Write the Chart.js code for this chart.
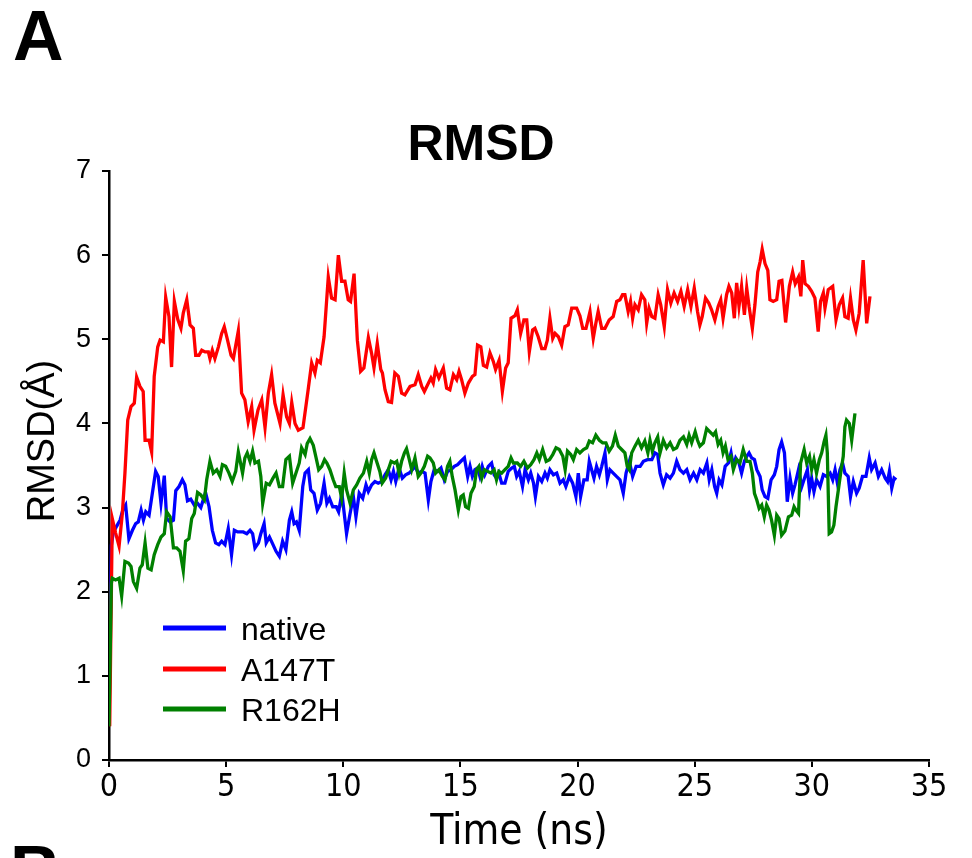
<!DOCTYPE html>
<html>
<head>
<meta charset="utf-8">
<title>RMSD</title>
<script src="https://cdn.jsdelivr.net/npm/chart.js@4/dist/chart.umd.min.js"></script>
<style>
  html, body { margin: 0; padding: 0; background: #fff; }
  #wrap { width: 972px; height: 858px; }
</style>
</head>
<body>
<div id="wrap"><canvas id="rmsd" width="972" height="858"></canvas></div>
<script>
//? Series labels + colours (legend order)
const seriesNames = ['native', 'A147T', 'R162H']
const seriesColors = ['#0000ff', '#ff0000', '#008000']

//? Axis ticks
const xTicks = [0, 5, 10, 15, 20, 25, 30, 35]
const yTicks = [0, 1, 2, 3, 4, 5, 6, 7]

//? native  [time (ns), RMSD (A)]
const nativeData = [
  [0,0.45],[0.1,2.55],[0.18,2.7],[0.33,2.78],[0.47,2.85],[0.6,2.98],[0.71,3.03],[0.85,2.63],[1.0,2.73],[1.14,2.81],
  [1.25,2.83],[1.37,2.97],[1.47,2.85],[1.57,2.95],[1.71,2.91],[1.85,3.17],[1.99,3.43],[2.1,3.37],[2.22,3.05],[2.36,3.38],
  [2.46,2.87],[2.61,2.83],[2.75,2.85],[2.85,3.2],[2.99,3.25],[3.13,3.33],[3.24,3.27],[3.35,3.08],[3.49,3.1],[3.64,3.03],
  [3.78,3.05],[3.92,3.0],[4.02,3.09],[4.12,3.18],[4.27,3.01],[4.41,2.73],[4.55,2.58],[4.69,2.56],[4.81,2.6],[4.95,2.56],
  [5.09,2.75],[5.23,2.44],[5.35,2.73],[5.49,2.71],[5.64,2.71],[5.73,2.71],[5.88,2.69],[6.02,2.73],[6.13,2.69],[6.23,2.52],
  [6.38,2.58],[6.48,2.69],[6.62,2.81],[6.71,2.58],[6.85,2.65],[7.0,2.56],[7.13,2.48],[7.27,2.42],[7.41,2.6],[7.55,2.5],
  [7.7,2.85],[7.8,2.95],[7.9,2.81],[8.0,2.83],[8.12,2.73],[8.27,3.25],[8.37,3.41],[8.51,3.45],[8.61,3.21],[8.75,3.17],
  [8.89,2.97],[9.03,3.05],[9.18,3.29],[9.3,3.05],[9.41,3.11],[9.55,3.01],[9.7,3.01],[9.8,2.95],[9.94,3.17],[10.04,2.93],
  [10.14,2.69],[10.29,2.93],[10.43,3.13],[10.54,2.89],[10.68,3.17],[10.83,3.11],[10.97,3.27],[11.07,3.19],[11.21,3.27],[11.35,3.31],
  [11.49,3.29],[11.64,3.31],[11.78,3.39],[11.92,3.45],[12.04,3.33],[12.14,3.43],[12.24,3.31],[12.38,3.47],[12.52,3.35],[12.66,3.39],
  [12.81,3.41],[12.95,3.45],[13.06,3.49],[13.2,3.41],[13.35,3.43],[13.49,3.41],[13.63,3.09],[13.74,3.31],[13.88,3.45],[14.03,3.43],
  [14.17,3.47],[14.31,3.33],[14.45,3.43],[14.6,3.45],[14.74,3.49],[14.88,3.51],[15.02,3.55],[15.17,3.59],[15.31,3.37],[15.41,3.49],
  [15.51,3.37],[15.62,3.45],[15.73,3.47],[15.83,3.37],[15.93,3.49],[16.04,3.39],[16.19,3.49],[16.33,3.53],[16.44,3.39],[16.54,3.35],
  [16.64,3.41],[16.76,3.29],[16.9,3.29],[17.04,3.43],[17.19,3.47],[17.3,3.49],[17.4,3.37],[17.51,3.43],[17.65,3.25],[17.76,3.45],
  [17.9,3.33],[18.0,3.41],[18.12,3.29],[18.2,3.13],[18.33,3.37],[18.47,3.31],[18.61,3.41],[18.71,3.35],[18.82,3.45],[18.97,3.39],
  [19.11,3.41],[19.25,3.29],[19.39,3.33],[19.5,3.25],[19.65,3.37],[19.79,3.29],[19.93,3.13],[20.03,3.41],[20.13,3.13],[20.27,3.33],
  [20.41,3.33],[20.5,3.55],[20.6,3.45],[20.7,3.35],[20.81,3.49],[20.93,3.39],[21.03,3.49],[21.17,3.65],[21.27,3.33],[21.38,3.45],
  [21.52,3.41],[21.66,3.37],[21.81,3.33],[21.95,3.17],[22.07,3.41],[22.21,3.55],[22.35,3.37],[22.5,3.49],[22.67,3.49],[22.81,3.55],
  [22.98,3.57],[23.17,3.57],[23.3,3.65],[23.42,3.63],[23.52,3.41],[23.66,3.27],[23.8,3.39],[23.95,3.35],[24.09,3.41],[24.23,3.55],
  [24.37,3.45],[24.52,3.41],[24.66,3.45],[24.8,3.33],[24.95,3.41],[25.09,3.33],[25.23,3.45],[25.37,3.41],[25.52,3.53],[25.62,3.33],
  [25.73,3.45],[25.85,3.25],[25.94,3.17],[26.04,3.33],[26.16,3.27],[26.3,3.49],[26.44,3.53],[26.55,3.65],[26.65,3.49],[26.75,3.59],
  [26.89,3.53],[27.0,3.41],[27.12,3.55],[27.22,3.61],[27.32,3.65],[27.43,3.59],[27.55,3.57],[27.65,3.45],[27.79,3.37],[27.88,3.21],
  [28.0,3.13],[28.12,3.11],[28.26,3.33],[28.4,3.39],[28.5,3.49],[28.6,3.69],[28.71,3.78],[28.83,3.65],[28.9,3.33],[28.95,3.07],
  [29.07,3.35],[29.18,3.17],[29.28,3.27],[29.43,3.45],[29.57,3.25],[29.71,3.37],[29.81,3.45],[29.9,3.21],[29.99,3.35],[30.09,3.19],
  [30.2,3.33],[30.35,3.25],[30.49,3.39],[30.63,3.37],[30.78,3.41],[30.89,3.33],[30.99,3.45],[31.09,3.29],[31.2,3.45],[31.31,3.53],
  [31.41,3.41],[31.55,3.37],[31.65,3.13],[31.77,3.31],[31.91,3.17],[32.02,3.23],[32.16,3.37],[32.31,3.37],[32.45,3.59],[32.55,3.45],
  [32.7,3.53],[32.84,3.37],[32.98,3.45],[33.13,3.35],[33.23,3.31],[33.31,3.43],[33.41,3.23],[33.51,3.35],[33.6,3.33]
]

//? A147T
const a147tData = [
  [0.03,0.4],[0.14,2.87],[0.28,2.7],[0.43,2.54],[0.57,2.93],[0.68,3.41],[0.8,4.04],[0.94,4.2],[1.08,4.24],[1.18,4.55],
  [1.32,4.44],[1.46,4.38],[1.54,3.8],[1.71,3.8],[1.82,3.66],[1.93,4.56],[2.08,4.91],[2.18,4.99],[2.32,4.97],[2.42,5.5],
  [2.56,5.27],[2.67,4.67],[2.79,5.45],[2.94,5.23],[3.07,5.13],[3.17,5.31],[3.32,5.47],[3.46,5.17],[3.6,5.13],[3.7,4.81],
  [3.84,4.81],[3.96,4.87],[4.1,4.85],[4.24,4.85],[4.31,4.77],[4.41,4.87],[4.52,4.77],[4.67,4.91],[4.81,5.07],[4.92,5.15],
  [5.06,4.99],[5.21,4.81],[5.31,4.77],[5.41,4.93],[5.52,5.1],[5.66,4.36],[5.8,4.28],[5.94,4.02],[6.09,4.2],[6.19,3.92],
  [6.36,4.16],[6.52,4.28],[6.66,3.95],[6.8,4.36],[6.94,4.58],[7.08,4.24],[7.3,4.0],[7.43,4.34],[7.58,4.08],[7.7,4.0],
  [7.8,4.25],[7.94,4.0],[8.08,3.92],[8.28,3.95],[8.5,4.4],[8.65,4.72],[8.79,4.6],[8.89,4.75],[9.02,4.72],[9.18,5.03],
  [9.36,5.74],[9.5,5.49],[9.65,5.47],[9.79,6.0],[9.93,5.69],[10.07,5.69],[10.21,5.47],[10.31,5.45],[10.46,5.78],[10.6,4.99],
  [10.74,4.62],[10.88,4.66],[11.07,5.02],[11.21,4.83],[11.31,4.66],[11.45,4.95],[11.6,4.64],[11.67,4.6],[11.78,4.4],[11.92,4.26],
  [12.06,4.25],[12.2,4.6],[12.35,4.56],[12.49,4.36],[12.63,4.34],[12.85,4.44],[13.06,4.46],[13.2,4.58],[13.35,4.44],[13.46,4.38],
  [13.6,4.46],[13.74,4.54],[13.84,4.48],[13.94,4.64],[14.08,4.54],[14.27,4.66],[14.41,4.42],[14.55,4.4],[14.7,4.58],[14.84,4.52],
  [14.94,4.62],[15.05,4.52],[15.19,4.36],[15.34,4.48],[15.51,4.56],[15.62,4.58],[15.73,4.93],[15.87,4.91],[15.98,4.69],[16.12,4.67],
  [16.26,4.84],[16.4,4.74],[16.5,4.64],[16.65,4.75],[16.79,4.38],[16.93,4.66],[17.04,4.72],[17.16,5.25],[17.33,5.28],[17.43,5.35],
  [17.57,5.07],[17.71,5.23],[17.83,5.23],[17.94,4.85],[18.08,5.11],[18.18,5.13],[18.32,5.03],[18.47,4.89],[18.61,4.89],[18.71,4.99],
  [18.82,5.25],[18.94,5.01],[19.04,5.07],[19.18,5.03],[19.32,4.93],[19.46,5.15],[19.6,5.17],[19.75,5.37],[19.96,5.37],[20.1,5.28],
  [20.22,5.13],[20.36,5.13],[20.53,5.33],[20.67,5.01],[20.78,5.19],[20.88,5.33],[21.03,5.13],[21.17,5.13],[21.35,5.23],[21.52,5.27],
  [21.67,5.45],[21.81,5.47],[21.92,5.53],[22.02,5.53],[22.16,5.33],[22.26,5.45],[22.35,5.25],[22.45,5.41],[22.59,5.35],[22.73,5.53],
  [22.87,5.47],[22.95,5.19],[23.05,5.37],[23.17,5.27],[23.3,5.25],[23.44,5.53],[23.55,5.41],[23.7,5.15],[23.84,5.59],[23.98,5.43],
  [24.12,5.55],[24.27,5.45],[24.41,5.57],[24.55,5.39],[24.7,5.59],[24.84,5.39],[24.98,5.61],[25.12,5.33],[25.22,5.17],[25.32,5.27],
  [25.46,5.49],[25.6,5.43],[25.72,5.35],[25.86,5.23],[26.0,5.39],[26.11,5.47],[26.21,5.25],[26.36,5.53],[26.46,5.63],[26.58,5.55],
  [26.69,5.25],[26.79,5.67],[26.89,5.39],[27.0,5.63],[27.12,5.29],[27.22,5.61],[27.32,5.39],[27.46,5.13],[27.57,5.41],[27.69,5.8],
  [27.79,5.92],[27.88,6.07],[28.0,5.9],[28.12,5.82],[28.21,5.47],[28.35,5.45],[28.5,5.47],[28.6,5.69],[28.72,5.7],[28.88,5.2],
  [29.04,5.63],[29.18,5.8],[29.29,5.66],[29.43,5.74],[29.53,5.51],[29.61,5.94],[29.71,5.66],[29.85,5.63],[29.99,5.57],[30.13,5.49],
  [30.27,5.09],[30.37,5.45],[30.49,5.55],[30.56,5.37],[30.7,5.59],[30.89,5.63],[31.03,5.23],[31.17,5.41],[31.31,5.49],[31.41,5.27],
  [31.55,5.25],[31.65,5.49],[31.77,5.23],[31.88,5.11],[32.02,5.31],[32.19,5.94],[32.34,5.19],[32.48,5.51]
]

//? R162H
const r162hData = [
  [0,0.4],[0.1,2.1],[0.14,2.16],[0.28,2.14],[0.43,2.16],[0.54,1.95],[0.68,2.36],[0.83,2.34],[0.94,2.3],[1.04,2.12],
  [1.18,2.04],[1.32,2.28],[1.42,2.32],[1.54,2.58],[1.66,2.28],[1.8,2.26],[1.93,2.44],[2.08,2.56],[2.22,2.65],[2.36,2.69],
  [2.46,2.95],[2.61,2.89],[2.75,2.52],[2.89,2.52],[3.03,2.48],[3.17,2.25],[3.27,2.6],[3.41,2.63],[3.53,2.87],[3.64,2.93],
  [3.78,3.18],[3.92,3.15],[4.07,3.09],[4.17,3.33],[4.31,3.55],[4.45,3.41],[4.6,3.45],[4.74,3.37],[4.84,3.51],[4.98,3.49],
  [5.12,3.41],[5.26,3.31],[5.41,3.43],[5.52,3.66],[5.7,3.41],[5.8,3.59],[5.9,3.65],[6.02,3.55],[6.13,3.67],[6.23,3.53],
  [6.38,3.55],[6.48,3.37],[6.56,3.05],[6.71,3.29],[6.85,3.27],[7.0,3.35],[7.13,3.41],[7.27,3.25],[7.41,3.25],[7.55,3.57],
  [7.7,3.61],[7.84,3.29],[7.98,3.41],[8.12,3.53],[8.22,3.71],[8.37,3.63],[8.46,3.76],[8.58,3.82],[8.72,3.74],[8.84,3.59],
  [8.95,3.45],[9.08,3.49],[9.2,3.57],[9.3,3.53],[9.43,3.45],[9.57,3.33],[9.68,3.25],[9.83,3.25],[9.93,3.11],[10.04,3.41],
  [10.14,3.21],[10.29,3.05],[10.43,3.21],[10.57,3.27],[10.71,3.35],[10.86,3.41],[11.0,3.55],[11.11,3.41],[11.21,3.57],[11.31,3.65],
  [11.42,3.55],[11.56,3.43],[11.66,3.29],[11.81,3.35],[11.92,3.45],[12.04,3.55],[12.18,3.53],[12.28,3.55],[12.38,3.41],[12.49,3.55],
  [12.61,3.65],[12.7,3.7],[12.8,3.59],[12.92,3.45],[13.06,3.59],[13.2,3.37],[13.31,3.41],[13.46,3.49],[13.6,3.61],[13.7,3.59],
  [13.84,3.53],[13.94,3.41],[14.08,3.45],[14.23,3.37],[14.34,3.33],[14.45,3.49],[14.55,3.55],[14.65,3.37],[14.77,3.21],[14.91,2.97],
  [15.02,3.13],[15.12,3.15],[15.22,3.01],[15.34,2.99],[15.45,3.17],[15.59,3.25],[15.69,3.45],[15.79,3.49],[15.91,3.35],[16.02,3.45],
  [16.16,3.43],[16.3,3.41],[16.44,3.45],[16.54,3.33],[16.64,3.43],[16.76,3.41],[16.9,3.45],[17.04,3.49],[17.16,3.59],[17.26,3.53],
  [17.43,3.53],[17.57,3.49],[17.71,3.55],[17.86,3.47],[18.0,3.51],[18.14,3.57],[18.26,3.65],[18.37,3.57],[18.51,3.69],[18.66,3.55],
  [18.8,3.57],[18.94,3.63],[19.08,3.71],[19.22,3.69],[19.37,3.61],[19.47,3.45],[19.57,3.67],[19.71,3.63],[19.82,3.57],[19.96,3.69],
  [20.1,3.65],[20.25,3.69],[20.39,3.71],[20.5,3.79],[20.64,3.77],[20.78,3.86],[20.93,3.8],[21.07,3.77],[21.21,3.77],[21.35,3.67],
  [21.49,3.73],[21.61,3.86],[21.74,3.73],[21.88,3.69],[22.02,3.65],[22.12,3.49],[22.21,3.45],[22.31,3.65],[22.45,3.73],[22.59,3.8],
  [22.73,3.71],[22.87,3.79],[23.0,3.65],[23.09,3.8],[23.19,3.67],[23.3,3.77],[23.42,3.84],[23.52,3.65],[23.66,3.8],[23.8,3.71],
  [23.95,3.77],[24.09,3.69],[24.23,3.71],[24.37,3.8],[24.52,3.84],[24.66,3.75],[24.76,3.86],[24.87,3.77],[25.02,3.9],[25.12,3.8],
  [25.22,3.73],[25.37,3.77],[25.51,3.94],[25.65,3.9],[25.79,3.86],[25.89,3.9],[26.0,3.75],[26.11,3.8],[26.21,3.65],[26.31,3.73],
  [26.42,3.57],[26.55,3.61],[26.65,3.45],[26.79,3.57],[26.93,3.53],[27.07,3.69],[27.22,3.55],[27.36,3.55],[27.46,3.41],[27.55,3.17],
  [27.65,3.09],[27.75,2.99],[27.86,3.03],[27.97,2.89],[28.07,3.03],[28.17,2.97],[28.28,2.85],[28.4,2.67],[28.5,2.91],[28.6,2.87],
  [28.71,2.67],[28.85,2.72],[29.0,2.89],[29.14,2.91],[29.24,3.01],[29.32,2.97],[29.43,2.93],[29.52,3.53],[29.67,3.69],[29.78,3.53],
  [29.9,3.61],[29.99,3.45],[30.09,3.57],[30.2,3.41],[30.32,3.57],[30.42,3.65],[30.52,3.78],[30.6,3.86],[30.66,3.65],[30.74,2.69],
  [30.84,2.71],[30.94,2.79],[31.03,3.01],[31.13,3.21],[31.23,3.41],[31.34,3.61],[31.41,3.96],[31.48,4.04],[31.6,4.0],[31.7,3.8],
  [31.77,3.96],[31.84,4.12]
]

const allSeries = [nativeData, a147tData, r162hData]

const SANS = '"Liberation Sans", Arial, sans-serif'
const NARROW = '"Liberation Sans Narrow", "DejaVu Sans Condensed", "Liberation Sans", sans-serif'

//* Extra text: panel letters, title, y label, in-plot legend
const decorations = {
  id: 'decorations',
  afterDraw(chart) {
    const ctx = chart.ctx
    ctx.save()
    ctx.fillStyle = '#000'
    ctx.textAlign = 'left'
    ctx.textBaseline = 'alphabetic'
    ctx.font = `bold 70px ${SANS}`
    ctx.fillText('A', 13, 60)
    ctx.fillText('B', 10, 895)

    ctx.textAlign = 'center'
    ctx.font = `bold 50px ${SANS}`
    ctx.fillText('RMSD', 481, 160)

    ctx.save()
    ctx.translate(54, 441)
    ctx.rotate(-Math.PI / 2)
    ctx.font = `38px ${SANS}`
    ctx.fillText('RMSD(Å)', 0, 0)
    ctx.restore()

    //? legend rows
    const rows = [628, 669, 709]
    ctx.textAlign = 'left'
    ctx.font = `32px ${SANS}`
    for (let i = 0; i < seriesNames.length; i++) {
      ctx.strokeStyle = seriesColors[i]
      ctx.lineWidth = 5
      ctx.beginPath()
      ctx.moveTo(163, rows[i])
      ctx.lineTo(226, rows[i])
      ctx.stroke()
      ctx.fillText(seriesNames[i], 241, rows[i] + 11.5)
    }
    ctx.restore()
  }
}

let ctx = document.getElementById('rmsd').getContext('2d')

chart = new Chart(ctx, {
  type: 'scatter',
  data: {
    datasets: allSeries.map((s, i) => ({
      label: seriesNames[i],
      data: s.map(p => ({ x: p[0], y: p[1] })),
      borderColor: seriesColors[i],
      backgroundColor: seriesColors[i],
      borderWidth: 3.3,
      showLine: true,
      pointRadius: 0,
      tension: 0,
      order: 2 - i
    }))
  },
  options: {
    responsive: false,
    animation: false,
    layout: { padding: { top: 171, right: 43, bottom: 0, left: 0 } },
    plugins: {
      legend: { display: false },
      title: { display: false },
      tooltip: { enabled: false }
    },
    scales: {
      x: {
        type: 'linear',
        min: 0,
        max: 35,
        afterBuildTicks: (scale) => { scale.ticks = xTicks.map(v => ({ value: v })) },
        afterFit: (scale) => { scale.height = 98 },
        ticks: { color: '#000', padding: 1, maxRotation: 0, font: { family: NARROW, size: 32 } },
        grid: { display: true, drawOnChartArea: false, drawTicks: true, tickLength: 7, color: '#000', lineWidth: 2 },
        border: { display: true, color: '#000', width: 2.5 },
        title: { display: true, text: 'Time (ns)', color: '#000', font: { family: NARROW, size: 42, lineHeight: 1 }, padding: { top: 0, bottom: 4 } }
      },
      y: {
        min: 0,
        max: 7,
        afterBuildTicks: (scale) => { scale.ticks = yTicks.map(v => ({ value: v })) },
        afterFit: (scale) => { scale.width = 109 },
        ticks: { color: '#000', padding: 11, font: { family: SANS, size: 27 } },
        grid: { display: true, drawOnChartArea: false, drawTicks: true, tickLength: 7, color: '#000', lineWidth: 2 },
        border: { display: true, color: '#000', width: 2.5 }
      }
    }
  },
  plugins: [decorations]
})
</script>
</body>
</html>
